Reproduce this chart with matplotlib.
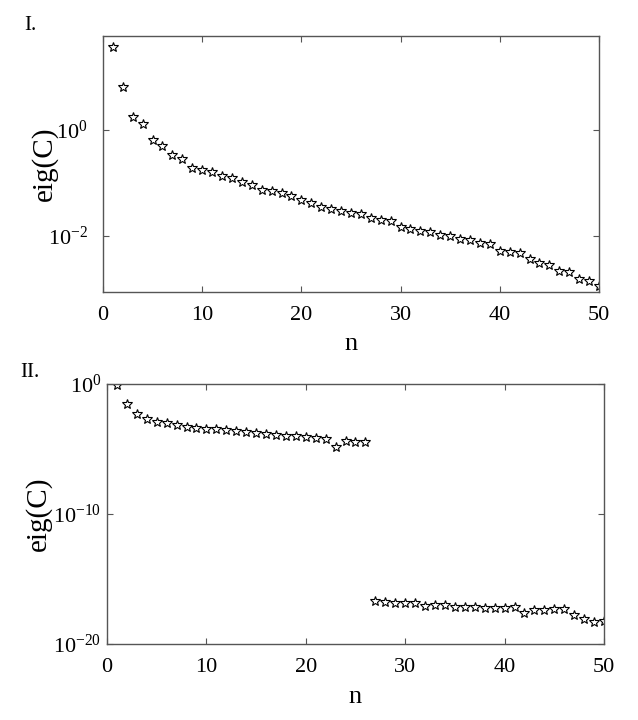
import matplotlib
matplotlib.use('Agg')
import matplotlib.pyplot as plt
import numpy as np

###############################################################################
# Data
###############################################################################

n = list(range(1, 51))

# panel I: log10 of eig(C)
log_eig_1 = [1.56, 0.81, 0.24, 0.11, -0.19, -0.31, -0.48, -0.55, -0.72, -0.755,
             -0.79, -0.87, -0.91, -0.975, -1.04, -1.13, -1.16, -1.19, -1.24, -1.33,
             -1.38, -1.45, -1.49, -1.53, -1.57, -1.585, -1.66, -1.70, -1.72, -1.84,
             -1.87, -1.905, -1.93, -1.98, -2.0, -2.06, -2.08, -2.14, -2.16, -2.28,
             -2.30, -2.33, -2.43, -2.52, -2.55, -2.67, -2.69, -2.82, -2.85, -2.94]

# panel II: log10 of eig(C)
log_eig_2 = [-0.1, -1.56, -2.31, -2.72, -2.9, -3.0, -3.15, -3.28, -3.36, -3.44,
             -3.49, -3.54, -3.62, -3.67, -3.79, -3.87, -3.92, -3.97, -4.03, -4.1,
             -4.15, -4.26, -4.87, -4.38, -4.46, -4.46, -16.7, -16.8, -16.85, -16.87,
             -16.87, -17.05, -16.97, -16.97, -17.15, -17.15, -17.18, -17.26, -17.23, -17.23,
             -17.15, -17.59, -17.41, -17.41, -17.33, -17.33, -17.79, -18.05, -18.28, -18.25]

eig_1 = 10.0 ** np.array(log_eig_1)
eig_2 = 10.0 ** np.array(log_eig_2)

###############################################################################
# Style
###############################################################################

plt.rcParams['font.family'] = ['Liberation Serif', 'DejaVu Serif']
plt.rcParams['mathtext.fontset'] = 'custom'
plt.rcParams['mathtext.rm'] = 'Liberation Serif'
plt.rcParams['mathtext.it'] = 'Liberation Serif'
plt.rcParams['mathtext.bf'] = 'Liberation Serif'
plt.rcParams['axes.unicode_minus'] = False

spine_col = '#555555'


def style_axes(ax, ylab_x, ypad):
    for s in ax.spines.values():
        s.set_color(spine_col)
        s.set_linewidth(1.0)
    ax.tick_params(which='major', direction='in', length=4, width=0.8,
                   color=spine_col, top=True, right=True, labelsize=16)
    ax.tick_params(axis='x', pad=10)
    ax.tick_params(axis='y', pad=ypad)
    ax.tick_params(which='minor', length=0, top=False, right=False)
    ax.set_xlim(0, 50)
    ax.set_xticks([0, 10, 20, 30, 40, 50])
    ax.set_xlabel('n', fontsize=19, va='baseline')
    ax.xaxis.set_label_coords(0.5, -0.228)
    ax.set_ylabel('eig(C)', fontsize=21, va='center')
    ax.yaxis.set_label_coords(ylab_x, 0.5)


fig = plt.figure(figsize=(6.38, 7.2), dpi=100)

###############################################################################
# Panel I
###############################################################################

ax1 = fig.add_axes([0.1614, 0.5944, 0.7774, 0.3556])
ax1.semilogy(n, eig_1, linestyle='none', marker='*', markersize=7,
             markerfacecolor='none', markeredgecolor='black',
             markeredgewidth=0.8)
ax1.set_ylim(10 ** -3.06, 10 ** 1.77)
ax1.set_yticks([1e-2, 1e0])
ax1.yaxis.set_minor_locator(matplotlib.ticker.NullLocator())
style_axes(ax1, -0.119, 11)
fig.text(0.038, 0.965, 'I.', fontsize=15, ha='left', va='center')

###############################################################################
# Panel II
###############################################################################

ax2 = fig.add_axes([0.1677, 0.1056, 0.779, 0.3611])
ax2.semilogy(n, eig_2, linestyle='none', marker='*', markersize=7,
             markerfacecolor='none', markeredgecolor='black',
             markeredgewidth=0.8)
ax2.set_ylim(1e-20, 1e0)
ax2.set_yticks([1e-20, 1e-10, 1e0])
ax2.yaxis.set_minor_locator(matplotlib.ticker.NullLocator())
style_axes(ax2, -0.139, 4)
fig.text(0.031, 0.482, 'II.', fontsize=15, ha='left', va='center')

fig.savefig('out.png', dpi=100)
